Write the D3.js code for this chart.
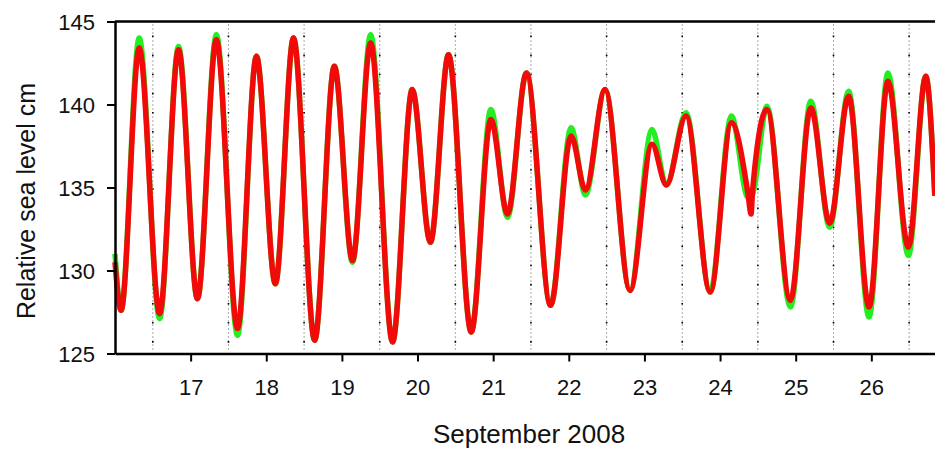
<!DOCTYPE html>
<html>
<head>
<meta charset="utf-8">
<script src="https://cdn.jsdelivr.net/npm/d3@7"></script>
<style>
    html, body { margin: 0; padding: 0; background: #fff; }
    svg { display: block; font-family: "Liberation Sans", Arial, sans-serif; }
    .axis path, .axis line { stroke: #000; }
    .axis text { fill: #111; font-size: 22px; }
</style>
</head>
<body>
<div id="chart"></div>
<script>
// Sea level, September 2008 (day of month, cm)
const days = [
    16.00, 16.08, 16.32, 16.59, 16.84, 17.09, 17.34, 17.62, 17.87, 18.12,
    18.36, 18.64, 18.90, 19.14, 19.38, 19.67, 19.93, 20.17, 20.41, 20.71,
    20.97, 21.19, 21.44, 21.76, 22.03, 22.22, 22.48, 22.81, 23.10, 23.29,
    23.55, 23.87, 24.15, 24.37, 24.41, 24.43, 24.62, 24.93, 25.20, 25.45,
    25.70, 25.97, 26.22, 26.49, 26.72, 26.84
];

const greenLevel = [
    131.0, 127.6, 144.0, 127.1, 143.5, 128.3, 144.2, 126.1, 142.9, 129.2,
    144.0, 125.8, 142.3, 130.5, 144.2, 125.7, 140.9, 131.7, 143.0, 126.3,
    139.7, 133.2, 141.9, 127.9, 138.6, 134.55, 140.9, 128.8, 138.5, 135.15,
    139.5, 128.7, 139.3, 134.4, 134.5, 134.6, 139.9, 127.8, 140.2, 132.6,
    140.8, 127.2, 141.9, 130.9, 141.7, 134.5
];

const redLevel = [
    130.5, 127.6, 143.4, 127.4, 143.3, 128.3, 143.9, 126.5, 142.9, 129.2,
    144.0, 125.8, 142.3, 130.6, 143.7, 125.7, 140.9, 131.7, 143.0, 126.3,
    139.1, 133.4, 141.9, 127.9, 138.1, 134.85, 140.9, 128.8, 137.6, 135.15,
    139.3, 128.7, 138.9, 134.6, 133.4, 134.8, 139.7, 128.2, 139.8, 132.85,
    140.5, 127.8, 141.4, 131.4, 141.7, 134.5
];

const xTicks = [17, 18, 19, 20, 21, 22, 23, 24, 25, 26];
const yTicks = [125, 130, 135, 140, 145];
const dayBreaks = [16.5, 17.5, 18.5, 19.5, 20.5, 21.5, 22.5, 23.5, 24.5, 25.5, 26.5];

const width = 935, height = 449;
const margin = { top: 21.5, right: 0, bottom: 95.5, left: 115 };

const svg = d3.select('#chart').append('svg')
    .attr('width', width)
    .attr('height', height);

const x = d3.scaleLinear()
    .domain([16, 26.842])
    .range([margin.left, width - margin.right]);

const y = d3.scaleLinear()
    .domain([125, 145])
    .range([height - margin.bottom, margin.top]);

// dotted day separators
const sepGroup = svg.append('g');
dayBreaks.forEach(d => {
    sepGroup.append('line')
        .attr('x1', x(d)).attr('x2', x(d))
        .attr('y1', y(145) + 3).attr('y2', y(125) - 2)
        .attr('stroke', '#555')
        .attr('stroke-width', 1)
        .attr('stroke-dasharray', '1,3');
    sepGroup.append('line')
        .attr('x1', x(d)).attr('x2', x(d))
        .attr('y1', y(145) + 14).attr('y2', y(125) - 2)
        .attr('stroke', '#000')
        .attr('stroke-width', 1.6)
        .attr('stroke-dasharray', '1.6,17.5');
});

const line = (values) => d3.line()
    .x((d, i) => x(days[i]))
    .y(d => y(d))
    .curve(d3.curveMonotoneX)(values);

svg.append('path')
    .attr('d', line(greenLevel))
    .attr('fill', 'none')
    .attr('stroke', '#22ee22')
    .attr('stroke-width', 5.5)
    .attr('stroke-linejoin', 'round');

svg.append('path')
    .attr('d', line(redLevel))
    .attr('fill', 'none')
    .attr('stroke', '#f20a0a')
    .attr('stroke-width', 5.5)
    .attr('stroke-linejoin', 'round');

// top frame line
svg.append('line')
    .attr('x1', margin.left).attr('x2', width)
    .attr('y1', y(145)).attr('y2', y(145))
    .attr('stroke', '#000')
    .attr('stroke-width', 2.5);

const xAxis = svg.append('g')
    .attr('class', 'axis')
    .attr('transform', `translate(0,${y(125)})`)
    .call(d3.axisBottom(x).tickValues(xTicks).tickSize(8).tickPadding(18).tickSizeOuter(0));

const yAxis = svg.append('g')
    .attr('class', 'axis')
    .attr('transform', `translate(${x(16)},0)`)
    .call(d3.axisLeft(y).tickValues(yTicks).tickSize(8).tickPadding(12).tickSizeOuter(0));

svg.selectAll('.axis path').attr('stroke-width', 2.5);
svg.selectAll('.axis line').attr('stroke-width', 2);
yAxis.selectAll('text').attr('dy', '0.36em');

svg.append('text')
    .attr('x', 529)
    .attr('y', 443)
    .attr('text-anchor', 'middle')
    .style('font-size', '26px')
    .style('fill', '#111')
    .text('September 2008');

svg.append('text')
    .attr('transform', 'translate(35,201) rotate(-90)')
    .attr('text-anchor', 'middle')
    .style('font-size', '25px')
    .style('fill', '#111')
    .text('Relative sea level cm');
</script>
</body>
</html>
